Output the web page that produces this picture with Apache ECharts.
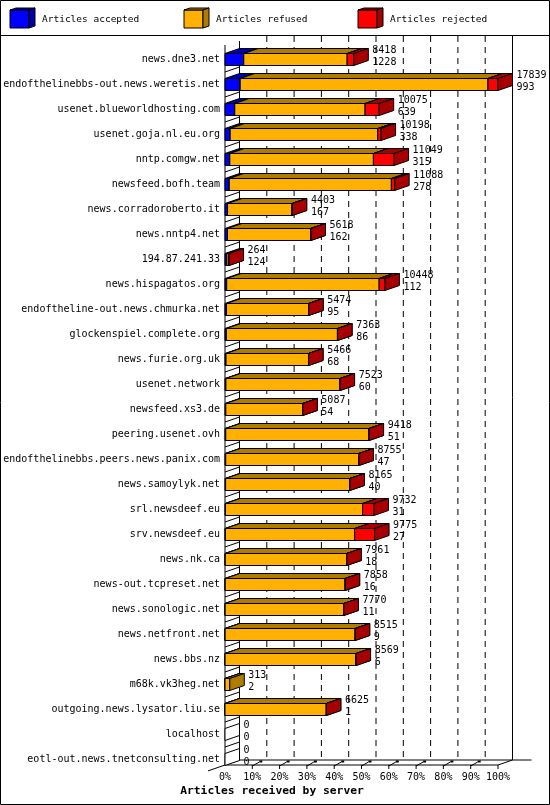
<!DOCTYPE html>
<html><head><meta charset="utf-8">
<script src="https://cdn.jsdelivr.net/npm/echarts@6/dist/echarts.min.js"></script>
<style>html,body{margin:0;padding:0;background:#fff}#c{width:550px;height:805px}</style>
</head><body><div id="c"></div>
<script>
const servers = [
  'news.dne3.net','endofthelinebbs-out.news.weretis.net','usenet.blueworldhosting.com','usenet.goja.nl.eu.org',
  'nntp.comgw.net','newsfeed.bofh.team','news.corradoroberto.it','news.nntp4.net','194.87.241.33',
  'news.hispagatos.org','endoftheline-out.news.chmurka.net','glockenspiel.complete.org','news.furie.org.uk',
  'usenet.network','newsfeed.xs3.de','peering.usenet.ovh','endofthelinebbs.peers.news.panix.com',
  'news.samoylyk.net','srl.newsdeef.eu','srv.newsdeef.eu','news.nk.ca','news-out.tcpreset.net',
  'news.sonologic.net','news.netfront.net','news.bbs.nz','m68k.vk3heg.net','outgoing.news.lysator.liu.se',
  'localhost','eotl-out.news.tnetconsulting.net'
];
const offered  = [8418,17839,10075,10198,11049,11088,4403,5618,264,10448,5474,7363,5466,7523,5087,9418,8755,8165,9732,9775,7961,7858,7770,8515,8569,313,6625,0,0];
const accepted = [1228,993,639,338,315,278,167,162,124,112,95,86,68,60,54,51,47,40,31,27,18,16,11,9,6,2,1,0,0];
const rejected = [430,650,915,215,1350,215,25,20,12,370,15,15,10,12,10,12,10,10,740,1306,10,8,8,8,8,0,5,0,0];
const refused  = [6760,16196,8521,9645,9384,10595,4211,5436,128,9966,5364,7262,5388,7451,5023,9355,8698,8115,8961,8442,7933,7834,7751,8498,8555,311,6619,0,0];
const tickPercents = [0,10,20,30,40,50,60,70,80,90,100];
const legendNames = ['Articles accepted','Articles refused','Articles rejected'];
const axisTitle = 'Articles received by server';

const frontColors = ['#0000FF','#FFB000','#FF0000'];
const shadeColors = ['#0000A8','#B07C00','#A80000'];
const DX = 14.5, DY = 5, HALF = 6;
const FONT = '10px "DejaVu Sans Mono"';
const maxTotal = Math.max.apply(null, offered);
const n = servers.length;

function ln(x1,y1,x2,y2,dash){
  return {type:'line', shape:{x1:x1,y1:y1,x2:x2,y2:y2}, style:{stroke:'#000', lineWidth:1, lineDash:dash||null}};
}

function renderFrame(params, api){
  const cs = params.coordSys;
  const left = cs.x, right = cs.x + cs.width, top = cs.y, bottom = cs.y + cs.height;
  const fb = bottom - 7, bb = fb - DY;
  const bt = top - 11, ft = top - 2;
  const kids = [];
  // back plane
  kids.push(ln(left+DX, bt+5, left+DX, bb));
  tickPercents.forEach(function(p){
    if (p > 0 && p < 100){
      const x = api.coord([p, 0])[0] + DX;
      kids.push(ln(x, bt, x, bb, [6,5]));
    }
  });
  kids.push(ln(right+DX, bt-1, right+DX, bb));
  kids.push(ln(left+DX, bb, right+DX+19, bb));
  // front plane
  kids.push(ln(left, ft, left, fb));
  kids.push(ln(left, fb, right, fb));
  kids.push(ln(left-17, fb+5.9, left+DX, bb));
  kids.push(ln(right, fb, right+DX, bb));
  tickPercents.forEach(function(p){
    if (p > 0){
      const x = api.coord([p, 0])[0];
      kids.push(ln(x, fb, x, fb+4));
      if (p < 100){
        kids.push(ln(x, fb+1, x+7, fb-3));
        kids.push({type:'rect', shape:{x:x+7, y:fb-4.5, width:3, height:2}, style:{fill:'#000'}});
      }
    }
  });
  for (let i = 0; i < n-1; i++){
    const c = api.coord([0, i])[1];
    const yb = c + 12.5;
    kids.push(ln(left, yb, left+DX, yb-DY));
  }
  return {type:'group', children:kids};
}

function renderBars(params, api){
  const i = api.value(0);
  const segs = [api.value(1), api.value(2), api.value(3)];
  const total = api.value(4);
  const base = api.coord([0, i]);
  const cy = base[1];
  const yT = cy - HALF, yB = cy + HALF;
  const kids = [];
  let cum = 0;
  let xEnd = base[0];
  if (total <= 0){
    const x = base[0];
    kids.push({type:'polygon', shape:{points:[[x,yT],[x,yB],[x+DX,yB-DY],[x+DX,yT-DY]]},
      style:{fill:'#fff', stroke:'#000', lineWidth:1}});
  }
  segs.forEach(function(v, k){
    if (!(v > 0)) return;
    const x0 = api.coord([cum / maxTotal * 100, i])[0];
    cum += v;
    const x1 = api.coord([cum / maxTotal * 100, i])[0];
    xEnd = x1;
    const st = {stroke:'#000', lineWidth:1};
    kids.push({type:'rect', shape:{x:x0, y:yT, width:x1-x0, height:yB-yT},
      style:Object.assign({fill:frontColors[k]}, st)});
    kids.push({type:'polygon', shape:{points:[[x0,yT],[x1,yT],[x1+DX,yT-DY],[x0+DX,yT-DY]]},
      style:Object.assign({fill:shadeColors[k]}, st)});
    kids.push({type:'polygon', shape:{points:[[x1,yT],[x1,yB],[x1+DX,yB-DY],[x1+DX,yT-DY]]},
      style:Object.assign({fill:shadeColors[k]}, st)});
  });
  const tx = xEnd + DX + 4;
  kids.push({type:'text', style:{text:String(total), x:tx, y:cy-9, fill:'#000', font:FONT, textAlign:'left', textVerticalAlign:'middle', verticalAlign:'middle'}});
  kids.push({type:'text', style:{text:String(api.value(1)), x:tx, y:cy+3, fill:'#000', font:FONT, textAlign:'left', textVerticalAlign:'middle', verticalAlign:'middle'}});
  return {type:'group', children:kids};
}

const barData = servers.map(function(s, i){ return [i, accepted[i], refused[i], rejected[i], offered[i]]; });

function legendCube(x, k){
  const y = 10, w = 19, h = 18, dx = 6, dy = 2;
  const st = {stroke:'#000', lineWidth:1};
  return [
    {type:'rect', shape:{x:x, y:y, width:w, height:h}, style:Object.assign({fill:frontColors[k]}, st)},
    {type:'polygon', shape:{points:[[x,y],[x+w,y],[x+w+dx,y-dy],[x+dx,y-dy]]}, style:Object.assign({fill:shadeColors[k]}, st)},
    {type:'polygon', shape:{points:[[x+w,y],[x+w,y+h],[x+w+dx,y+h-dy],[x+w+dx,y-dy]]}, style:Object.assign({fill:shadeColors[k]}, st)}
  ];
}
const legendX = [10, 184, 358];
let graphics = [
  {type:'rect', shape:{x:0.5, y:0.5, width:549, height:804}, style:{fill:'none', stroke:'#000', lineWidth:1}},
  {type:'line', shape:{x1:0, y1:35.5, x2:550, y2:35.5}, style:{stroke:'#000', lineWidth:1}},
  {type:'text', style:{text:axisTitle, x:272, y:791, font:'bold 11.3px "DejaVu Sans Mono"', fill:'#000', textAlign:'center', textVerticalAlign:'middle', verticalAlign:'middle'}}
];
legendX.forEach(function(x, k){
  graphics = graphics.concat(legendCube(x, k));
  graphics.push({type:'text', style:{text:legendNames[k], x:x+32, y:20, font:'9.5px "DejaVu Sans Mono"', fill:'#000', textAlign:'left', textVerticalAlign:'middle', verticalAlign:'middle'}});
});

const chart = echarts.init(document.getElementById('c'), null, {renderer:'canvas'});
chart.setOption({
  animation:false,
  backgroundColor:'#fff',
  grid:{left:225, right:52, top:47, bottom:33, containLabel:false},
  xAxis:{type:'value', min:0, max:100, interval:10,
    axisLine:{show:false}, axisTick:{show:false}, splitLine:{show:false},
    axisLabel:{margin:0, color:'#000', fontFamily:'DejaVu Sans Mono', fontSize:10, formatter:function(v){return v+'%';}}},
  yAxis:{type:'category', inverse:true, data:servers,
    axisLine:{show:false}, axisTick:{show:false}, splitLine:{show:false},
    axisLabel:{margin:5, color:'#000', fontFamily:'DejaVu Sans Mono', fontSize:10, interval:0}},
  graphic:graphics,
  series:[
    {type:'custom', name:'frame', silent:true, z:1, renderItem:renderFrame, data:[[0,0]], encode:{x:0, y:1}},
    {type:'custom', name:'bars', silent:true, z:2, renderItem:renderBars, data:barData, encode:{y:0, x:4}}
  ]
});
</script></body></html>
